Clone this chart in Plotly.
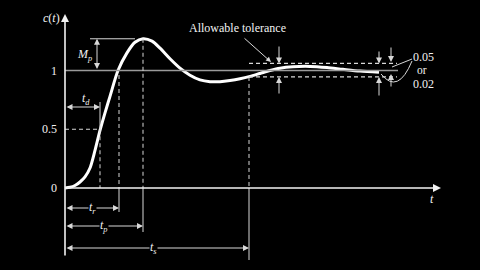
import plotly.graph_objects as go

# ---- data ----
t = [0, 0.25, 0.5, 0.75, 1.0, 1.25, 1.5, 1.75, 2.0, 2.25, 2.65, 3.1, 3.5, 3.9, 4.35,
     4.75, 5.25, 5.75, 6.25, 6.75, 7.25, 7.75, 8.25, 8.75, 9.25, 9.75, 10.25, 10.75,
     11.4, 12.25, 13.1, 13.9, 14.75, 15.7]
c = [0, 0.006, 0.021, 0.051, 0.094, 0.17, 0.32, 0.49, 0.64, 0.78, 1.0, 1.15, 1.24, 1.27, 1.25,
     1.19, 1.10, 1.02, 0.96, 0.92, 0.905, 0.905, 0.915, 0.93, 0.95, 0.975, 1.0, 1.02,
     1.032, 1.035, 1.025, 1.01, 0.995, 0.985]
y_ticks = [0, 0.5, 1]
y_tick_labels = ["0", "0.5", "1"]
T_D, T_R, T_P, T_S = 1.75, 2.7, 3.9, 9.2
TOL_HI, TOL_LO = 1.06, 0.945
PEAK = max(c)

# ---- pixel helpers for layout furniture ----
PXU, PYU = 20.0, 117.5
def X(px):
    return (px - 65) / PXU
def Y(py):
    return (188 - py) / PYU

FONT = "Liberation Serif"
W = "#f2f2f2"
G = "#9a9a9a"
D = "#d8d8d8"
DASH = "4px,3px"

fig = go.Figure()
fig.add_trace(go.Scatter(x=t, y=c, mode="lines", line=dict(color="white", width=3, shape="spline", smoothing=0.8),
                         hoverinfo="skip", showlegend=False))

shapes = []
def line(x0, y0, x1, y1, color=D, width=1, dash="solid"):
    shapes.append(dict(type="line", xref="x", yref="y", x0=x0, y0=y0, x1=x1, y1=y1,
                       line=dict(color=color, width=width, dash=dash)))

# reference line at 1 and Mp line
line(0, 1, X(398), 1, G, 1.5)
line(X(90), PEAK, X(135), PEAK, D, 1)
# dashed construction lines
line(0, 0.5, T_D, 0.5, D, 1.2, DASH)
line(T_D, 0.5, T_D, 0, D, 1, DASH)
line(T_D, Y(102), T_D, 0.5, D, 1)
line(T_R, Y(75), T_R, 0, D, 1, DASH)
line(T_P, PEAK, T_P, 0, D, 1, DASH)
line(T_S, TOL_LO, T_S, 0, D, 1, DASH)
# extension lines below axis
line(T_R, 0, T_R, Y(212), D, 1)
line(T_P, 0, T_P, Y(232), D, 1)
line(T_S, 0, T_S, Y(260), D, 1)
# tolerance band
line(T_S, TOL_HI, X(397), TOL_HI, D, 1.2, DASH)
line(T_S, TOL_LO, X(397), TOL_LO, D, 1.2, DASH)
# curved leader to 0.02
shapes.append(dict(type="path", xref="x", yref="y",
                   path=f"M {X(412)} {Y(61)} Q {X(398)} {Y(95)} {X(381)} {Y(74)}",
                   line=dict(color=D, width=1)))
line(X(412), Y(59), X(392), Y(67), D, 1)

ann = []
def arrow(x, y, ax, ay, both=False, color=D, width=1, size=1.2):
    ann.append(dict(x=x, y=y, ax=ax, ay=ay, xref="x", yref="y", axref="x", ayref="y",
                    text="", showarrow=True, arrowhead=2, arrowsize=size, arrowwidth=width,
                    arrowcolor=color, startarrowhead=2, startarrowsize=size,
                    arrowside="end+start" if both else "end"))

def text(x, y, s, size=12, xanchor="center", bg=None):
    d = dict(x=x, y=y, xref="x", yref="y", text=s, showarrow=False, xanchor=xanchor,
             yanchor="middle", font=dict(family=FONT, size=size, color=W))
    if bg:
        d["bgcolor"] = bg
        d["borderpad"] = 0
    ann.append(d)

# axes with arrowheads
arrow(X(441), 0, X(65), 0, color=W, width=1.6, size=1)
arrow(0, Y(14), 0, Y(257), color=W, width=1.6, size=1)

# time arrows
arrow(T_D, Y(107), 0, Y(107), both=True)
arrow(T_R, Y(208), 0, Y(208), both=True)
arrow(T_P, Y(226), 0, Y(226), both=True)
arrow(T_S, Y(248), 0, Y(248), both=True)
# Mp arrow
arrow(X(97), PEAK, X(97), 1, both=True)
# tolerance arrows
arrow(X(279), TOL_HI, X(279), Y(45))
arrow(X(279), TOL_LO, X(279), Y(95))
arrow(X(379), TOL_HI, X(379), Y(50))
arrow(X(379), TOL_LO, X(379), Y(97))
arrow(X(391), Y(62), X(391), Y(46))
arrow(X(391), Y(74), X(391), Y(88))
# allowable tolerance leader
arrow(X(271), Y(62), X(243), Y(37), width=1, size=1)

# tick labels
for v, lab in zip(y_ticks, y_tick_labels):
    text(X(58.5), v, lab, 12, xanchor="right")

text(X(51), Y(18), "<i>c</i>(<i>t</i>)")
text(X(432), Y(199), "<i>t</i>")
text(X(84), Y(55), "<i>M</i><sub><i>p</i></sub>")
text(X(86), Y(99), "<i>t</i><sub><i>d</i></sub>")
text(X(92), Y(208), "<i>t</i><sub><i>r</i></sub>", bg="black")
text(X(104), Y(226), "<i>t</i><sub><i>p</i></sub>", bg="black")
text(X(153), Y(248), "<i>t</i><sub><i>s</i></sub>", bg="black")
text(X(237), Y(28), "Allowable tolerance")
text(X(423), Y(57), "0.05")
text(X(422), Y(70), "or", 11.5)
text(X(423), Y(84), "0.02")

fig.update_layout(
    width=480, height=270,
    margin=dict(l=0, r=0, t=0, b=0, autoexpand=False),
    paper_bgcolor="black", plot_bgcolor="black",
    xaxis=dict(visible=False, range=[X(0), X(480)], fixedrange=True),
    yaxis=dict(visible=False, range=[Y(270), Y(0)], fixedrange=True),
    shapes=shapes, annotations=ann, showlegend=False,
)
fig.write_html("out.html")
